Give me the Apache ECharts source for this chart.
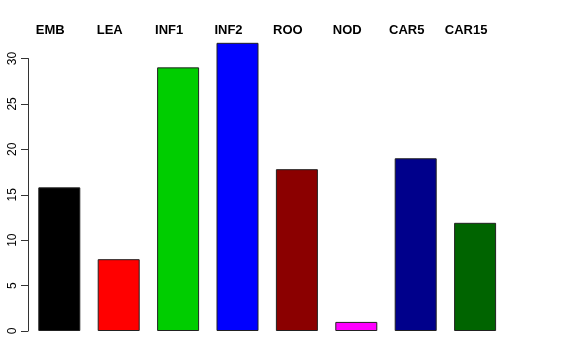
<!DOCTYPE html>
<html>
<head>
<meta charset="utf-8">
<script src="https://cdn.jsdelivr.net/npm/echarts@6/dist/echarts.min.js"></script>
<style>html,body{margin:0;padding:0;background:#fff}#c{width:576px;height:360px}</style>
</head>
<body>
<div id="c"></div>
<script>
var categories = ['EMB', 'LEA', 'INF1', 'INF2', 'ROO', 'NOD', 'CAR5', 'CAR15'];
var values = [15.8, 7.9, 29.0, 31.7, 17.8, 1.0, 19.0, 11.9];
var colors = ['#000000', '#ff0000', '#00cd00', '#0000ff', '#8b0000', '#ff00ff', '#00008b', '#006400'];
var yTicks = [0, 5, 10, 15, 20, 25, 30];

var chart = echarts.init(document.getElementById('c'), null, {renderer: 'canvas'});
chart.setOption({
  animation: false,
  backgroundColor: '#ffffff',
  grid: [
    {left: 29.6, width: 475.2, top: 40.1, bottom: 29},
    {left: 28, width: 1, top: 58.5, bottom: 29},
    {left: 20.6, width: 475.2, top: 40.1, bottom: 29}
  ],
  xAxis: [
    {gridIndex: 0, type: 'category', data: categories, show: false},
    {gridIndex: 1, type: 'category', data: categories, show: false},
    {gridIndex: 2, type: 'category', data: categories, position: 'top',
      axisLine: {show: false}, axisTick: {show: false},
      axisLabel: {margin: 3, color: '#000', fontFamily: 'Liberation Sans, Arial, sans-serif', fontWeight: 'bold', fontSize: 13, interval: 0}}
  ],
  yAxis: [
    {gridIndex: 0, type: 'value', min: 0, max: 32, show: false, splitLine: {show: false}},
    {gridIndex: 1, type: 'value', min: yTicks[0], max: yTicks[yTicks.length - 1], interval: 5,
      axisLine: {show: true, lineStyle: {color: '#333', width: 1}},
      axisTick: {show: true, length: 7, lineStyle: {color: '#333'}},
      splitLine: {show: false},
      axisLabel: {rotate: 90, margin: 9, color: '#000', fontFamily: 'Liberation Sans, Arial, sans-serif', fontSize: 12}},
    {gridIndex: 2, type: 'value', show: false, splitLine: {show: false}}
  ],
  series: [{
    type: 'bar',
    xAxisIndex: 0, yAxisIndex: 0,
    barWidth: 42,
    data: values.map(function (v, i) {
      return {value: v, itemStyle: {color: colors[i], borderColor: '#222', borderWidth: 1}};
    })
  }]
});
</script>
</body>
</html>
